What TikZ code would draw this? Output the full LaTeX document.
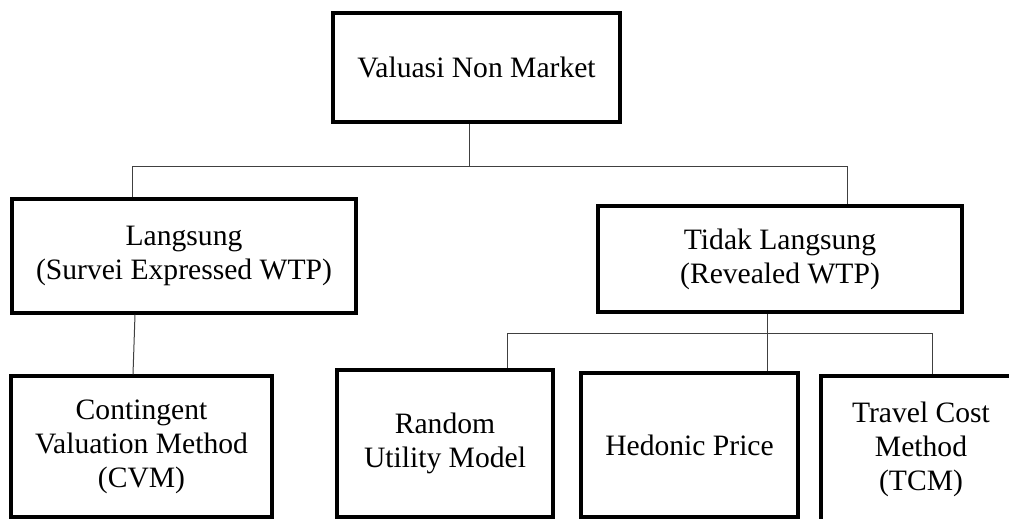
\documentclass[tikz,border=0pt]{standalone}
\usepackage{fontspec}
\setmainfont{Liberation Serif}
\begin{document}
\begin{tikzpicture}[x=1pt,y=-1pt,
  box/.style={draw=black,line width=3.2pt,fill=white,inner sep=0pt,align=center,
    font=\fontsize{29.6}{34}\selectfont},
  conn/.style={draw=black!75,line width=1pt}]
\useasboundingbox (0,0) rectangle (1009,519);
\clip (0,0) rectangle (1009,519);
\fill[white] (0,0) rectangle (1009,519);
\node[box,minimum width=287pt,minimum height=109pt] (top) at (476.5,67.5) {Valuasi Non Market};
\node[box,minimum width=344pt,minimum height=114pt] (lang) at (184,256) {Langsung\\(Survei Expressed WTP)};
\node[box,minimum width=364pt,minimum height=106pt] (tidak) at (780,259) {Tidak Langsung\\(Revealed WTP)};
\node[box,minimum width=261pt,minimum height=141pt] (cvm) at (141.5,446.5) {Contingent\\Valuation Method\\(CVM)};
\node[box,minimum width=216pt,minimum height=147pt] (rum) at (445,443.5) {Random\\Utility Model};
\node[box,minimum width=217pt,minimum height=144pt] (hed) at (689.5,445) {Hedonic Price};
\node[box,minimum width=200pt,minimum height=146pt] (tcm) at (921,449) {Travel Cost\\Method\\(TCM)};
\coordinate (jt) at (469,166);
\coordinate (jl) at (132,166);
\coordinate (jr) at (847,166);
\coordinate (jb) at (767,333);
\coordinate (ja) at (507,333);
\coordinate (jc) at (932,333);
\draw[conn] (top.south -| jt) -- (jt);
\draw[conn] (lang.north -| jl) -- (jl) -- (jr) -- (tidak.north -| jr);
\draw[conn] ([xshift=-49pt]lang.south) -- ([xshift=-8.5pt]cvm.north);
\draw[conn] (tidak.south -| jb) -- (jb);
\draw[conn] (rum.north -| ja) -- (ja) -- (jc) -- (tcm.north -| jc);
\draw[conn] (jb) -- (hed.north -| jb);
\end{tikzpicture}
\end{document}
